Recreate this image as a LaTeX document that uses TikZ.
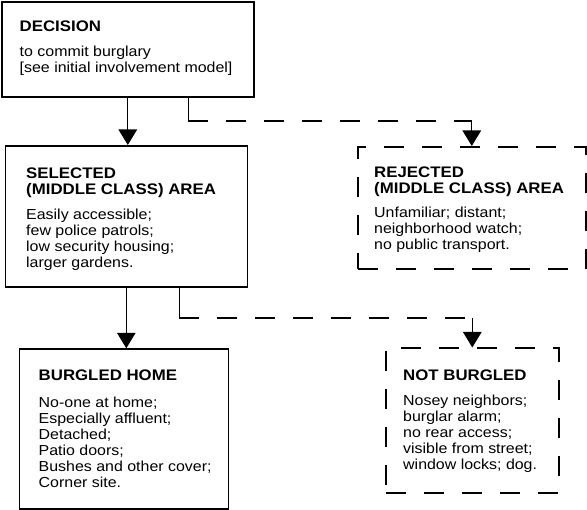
\documentclass[tikz,border=0pt]{standalone}
\usepackage{fontspec}
\setsansfont{Liberation Sans}[FakeStretch=1.1]
\usepackage{tikz}
\usetikzlibrary{arrows.meta}

\tikzset{
  box/.style={draw, line width=1.6pt, inner sep=0pt, anchor=north west},
  dashbox/.style={box, dash pattern=on 20pt off 18pt},
  head/.style={font=\sffamily\bfseries\fontsize{15.3}{15.5}\selectfont, align=left, anchor=base west, inner sep=0pt},
  body/.style={font=\sffamily\fontsize{14.5}{16}\selectfont, align=left, anchor=base west, inner sep=0pt},
  line/.style={line width=1.1pt},
  link/.style={line, -{Triangle[length=15.5pt,width=18.5pt]}},
  dashlink/.style={line, dash pattern=on 20pt off 18pt},
}

\begin{document}
\begin{tikzpicture}[x=1pt,y=-1pt]
	\useasboundingbox (0,0) rectangle (587,510);

	% Boxes
	\node[box, minimum width=252pt, minimum height=95pt] (decision) at (1,1) {};
	\node[box, minimum width=242pt, minimum height=141pt] (selected) at (4.5,145) {};
	\node[dashbox, minimum width=228pt, minimum height=122pt] (rejected) at (357,146) {};
	\node[box, minimum width=209pt, minimum height=160pt] (burgled) at (18.5,348.3) {};
	\node[dashbox, minimum width=173pt, minimum height=145pt] (notburgled) at (385,347.5) {};

	% Texts (placed at the baseline of their last line)
	\node[head] (dechead) at (19.5,32) {DECISION};
	\node[body] (decbody) at (19.5,73) {to commit burglary\\{[}see initial involvement model{]}};

	\node[head] (selhead) at (26,194.5) {SELECTED\\(MIDDLE CLASS) AREA};
	\node[body] (selbody) at (26,268) {Easily accessible;\\few police patrols;\\low security housing;\\larger gardens.};

	\node[head] (rejhead) at (374,193.5) {REJECTED\\(MIDDLE CLASS) AREA};
	\node[body] (rejbody) at (374,250) {Unfamiliar; distant;\\neighborhood watch;\\no public transport.};

	\node[head] (burhead) at (38.5,380.7) {BURGLED HOME};
	\node[body] (burbody) at (38.5,487.3) {No-one at home;\\Especially affluent;\\Detached;\\Patio doors;\\Bushes and other cover;\\Corner site.};

	\node[head] (nothead) at (403,380.5) {NOT BURGLED};
	\node[body] (notbody) at (403,469.5) {Nosey neighbors;\\burglar alarm;\\no rear access;\\visible from street;\\window locks; dog.};

	% Connectors
	\coordinate (rejturn) at (rejected.north |- 0,121);
	\coordinate (rejcorner) at ([xshift=60.5pt]decision.south |- rejturn);
	\coordinate (notturn) at (notburgled.north |- 0,318);
	\coordinate (notcorner) at ([xshift=53pt]selected.south |- notturn);

	\draw[link] (decision.south) -- (decision.south |- selected.north);
	\draw[line] (decision.south -| rejcorner) -- (rejcorner);
	\draw[dashlink] (rejcorner) -- (rejturn);
	\draw[link] (rejturn) -- (rejected.north);

	\draw[link] (selected.south) -- (selected.south |- burgled.north);
	\draw[line] (selected.south -| notcorner) -- (notcorner);
	\draw[dashlink] (notcorner) -- (notturn);
	\draw[link] (notturn) -- (notburgled.north);
\end{tikzpicture}
\end{document}
